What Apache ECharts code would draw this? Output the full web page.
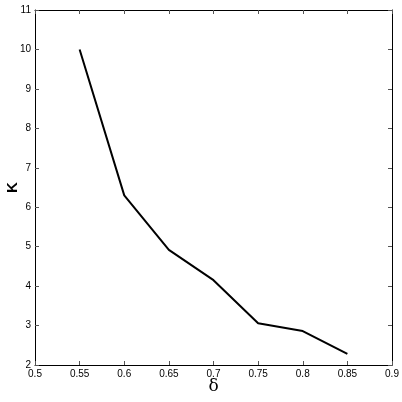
<!DOCTYPE html>
<html><head><meta charset="utf-8">
<script src="https://cdn.jsdelivr.net/npm/echarts@6/dist/echarts.min.js"></script>
<style>html,body{margin:0;padding:0;background:#fff}#c{width:402px;height:402px}</style>
</head><body><div id="c"></div>
<script>
const deltaValues = [0.55, 0.6, 0.65, 0.7, 0.75, 0.8, 0.85];
const kValues = [10.0, 6.3, 4.92, 4.15, 3.06, 2.86, 2.28];
const xTitle = 'δ';
const yTitle = 'K';

const chart = echarts.init(document.getElementById('c'));
const labelStyle = {color: '#000', fontSize: 10, fontFamily: 'Liberation Sans, Arial, sans-serif'};
const lineStyle = {color: '#000', width: 1};
const tickStyle = {show: true, inside: true, length: 4, lineStyle: {color: '#555', width: 1}};
chart.setOption({
  animation: false,
  backgroundColor: '#fff',
  grid: {left: 35, right: 10, top: 10, bottom: 37, containLabel: false, outerBoundsMode: 'none'},
  xAxis: [{
    type: 'value', min: 0.5, max: 0.9, interval: 0.05,
    axisLine: {show: true, lineStyle}, axisTick: tickStyle, splitLine: {show: false},
    axisLabel: Object.assign({margin: 4, formatter: v => String(Math.round(v*100)/100)}, labelStyle),
    name: xTitle, nameLocation: 'middle', nameGap: 13, nameMoveOverlap: false,
    nameTextStyle: {color: '#000', fontSize: 17, fontFamily: 'DejaVu Serif, serif'}
  }, {
    type: 'value', position: 'top', min: 0.5, max: 0.9, interval: 0.05,
    axisLine: {show: true, lineStyle}, axisTick: tickStyle, axisLabel: {show: false}, splitLine: {show: false}
  }],
  yAxis: [{
    type: 'value', min: 2, max: 11, interval: 1,
    axisLine: {show: true, lineStyle}, axisTick: tickStyle, splitLine: {show: false},
    axisLabel: Object.assign({margin: 4}, labelStyle),
    name: yTitle, nameLocation: 'middle', nameGap: 15, nameRotate: 90, nameMoveOverlap: false,
    nameTextStyle: {color: '#000', fontSize: 15, fontWeight: 'bold', fontFamily: 'Liberation Sans, Arial, sans-serif'}
  }, {
    type: 'value', position: 'right', min: 2, max: 11, interval: 1,
    axisLine: {show: true, lineStyle}, axisTick: tickStyle, axisLabel: {show: false}, splitLine: {show: false}
  }],
  series: [{
    type: 'line', xAxisIndex: 0, yAxisIndex: 0,
    data: deltaValues.map((d, i) => [d, kValues[i]]),
    showSymbol: false, symbol: 'none',
    lineStyle: {color: '#000', width: 2}
  }]
});
</script></body></html>
